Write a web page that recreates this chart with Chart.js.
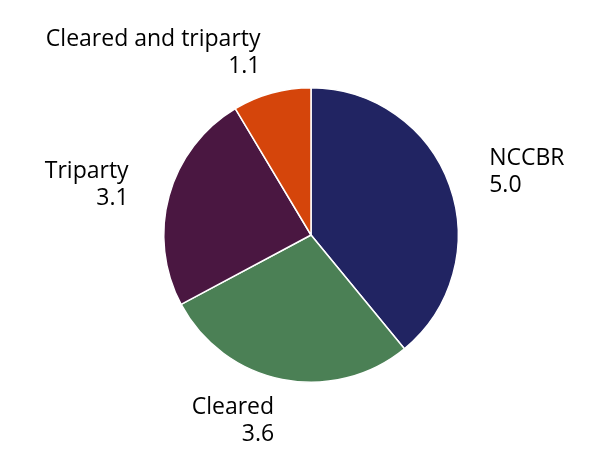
<!DOCTYPE html>
<html><head><meta charset="utf-8">
<script src="https://cdn.jsdelivr.net/npm/chart.js@4/dist/chart.umd.min.js"></script>
<style>html,body{margin:0;padding:0;background:#fff}#wrap{width:598px;height:461px}</style>
</head><body><div id="wrap"><canvas id="c"></canvas></div>
<script>
const categories = ["NCCBR", "Cleared", "Triparty", "Cleared and triparty"];
const values = [5.0, 3.6, 3.1, 1.1];
const valueLabels = ["5.0", "3.6", "3.1", "1.1"];
const colors = ["#212462", "#4b8055", "#4a1741", "#d5450b"];

const labelPlugin = {
  id: 'sliceLabels',
  afterDatasetsDraw(chart) {
    const ctx = chart.ctx;
    const meta = chart.getDatasetMeta(0);
    ctx.save();
    ctx.font = '23px "Open Sans"';
    ctx.fillStyle = '#000';
    ctx.textBaseline = 'middle';
    meta.data.forEach((arc, i) => {
      const p = arc.getProps(['x','y','startAngle','endAngle','outerRadius'], true);
      const mid = (p.startAngle + p.endAngle) / 2;
      const r = p.outerRadius + 42;
      const x = p.x + Math.cos(mid) * r;
      const y = p.y + Math.sin(mid) * r;
      ctx.textAlign = Math.cos(mid) > 0 ? 'left' : 'right';
      ctx.fillText(categories[i], x, y - 13);
      ctx.fillText(valueLabels[i], x, y + 14);
    });
    ctx.restore();
  }
};

new Chart(document.getElementById('c'), {
  type: 'pie',
  data: {
    labels: categories,
    datasets: [{ data: values, backgroundColor: colors, borderColor: '#fff', borderWidth: 1.5 }]
  },
  options: {
    responsive: true,
    maintainAspectRatio: false,
    animation: false,
    layout: { padding: { left: 24, right: 0, top: 87, bottom: 78 } },
    plugins: { legend: { display: false }, tooltip: { enabled: false } }
  },
  plugins: [labelPlugin]
});
</script></body></html>
